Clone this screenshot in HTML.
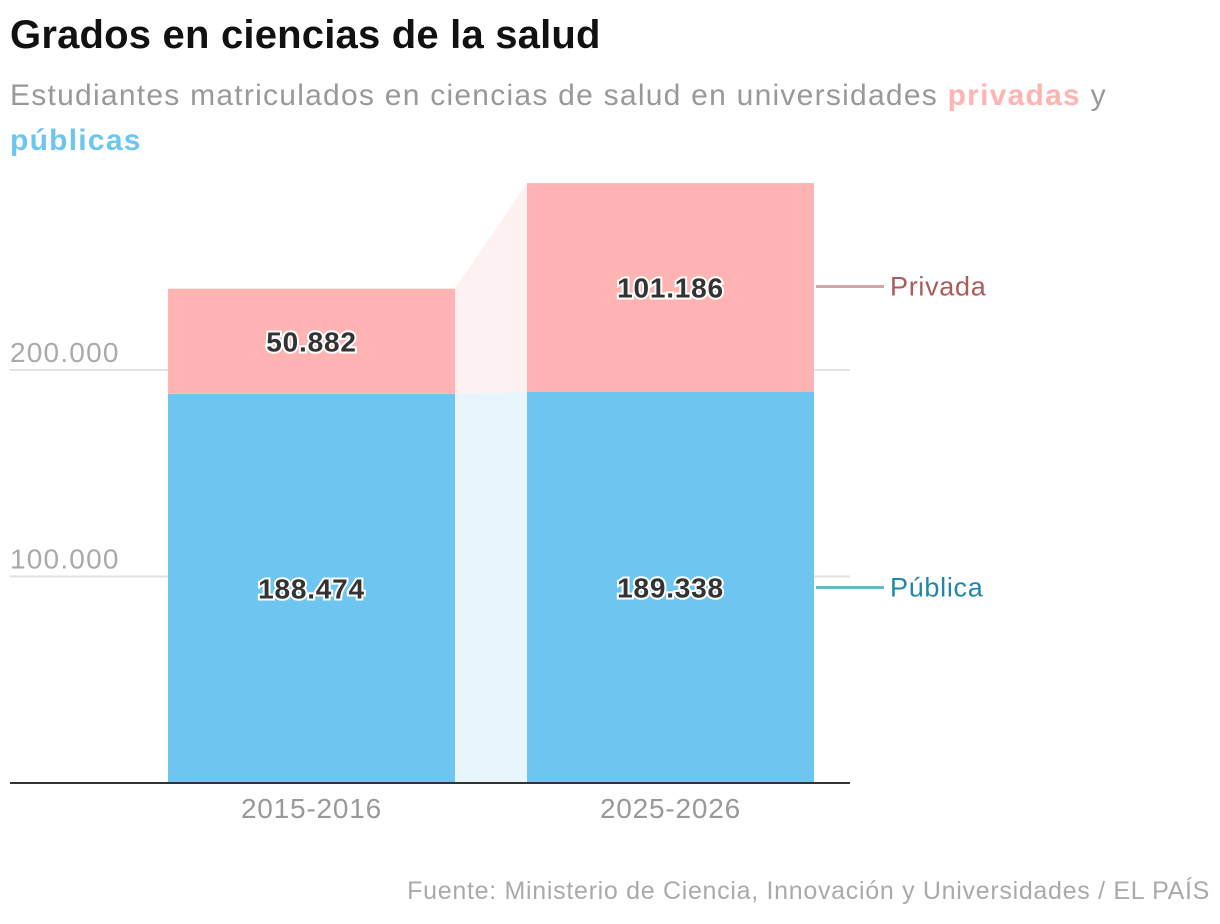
<!DOCTYPE html>
<html><head><meta charset="utf-8">
<style>
body{margin:0;width:1220px;height:924px;background:#fff;font-family:"Liberation Sans",sans-serif;overflow:hidden;position:relative}
h1{position:absolute;left:10px;top:13px;margin:0;font-size:40px;font-weight:bold;color:#111;letter-spacing:0.2px}
.sub{position:absolute;left:10px;top:73px;width:1150px;margin:0;font-size:30px;line-height:45px;color:#999;letter-spacing:1.25px}
.pr{color:#ffb3b3;font-weight:bold}.pu{color:#6cc6ef;font-weight:bold}
.src{position:absolute;right:10px;top:877px;font-size:25px;color:#aaa;letter-spacing:0.7px}
svg{position:absolute;left:0;top:0}
</style></head><body>
<h1>Grados en ciencias de la salud</h1>
<p class="sub">Estudiantes matriculados en ciencias de salud en universidades <span class="pr">privadas</span> y <span class="pu">públicas</span></p>
<div class="src">Fuente: Ministerio de Ciencia, Innovación y Universidades / EL PAÍS</div>
<svg id="chart" width="1220" height="924"></svg>
<script>
const categories=["2015-2016","2025-2026"];
const publica=[188474,189338];
const privada=[50882,101186];
const tickValues=[100000,200000];
const tickLabels=["100.000","200.000"];
const fmt=v=>v.toString().replace(/\B(?=(\d{3})+(?!\d))/g,".");
const NS="http://www.w3.org/2000/svg";
const svg=document.getElementById('chart');
const base=783, pxPer=413/200000;
const y=v=>base-v*pxPer;
const barX=[168,527], barW=287;
function mk(t,a){const e=document.createElementNS(NS,t);for(const k in a)e.setAttribute(k,a[k]);svg.appendChild(e);return e;}
tickValues.forEach((v,i)=>{
 const g=mk('line',{x1:10,x2:850,y1:y(v),y2:y(v),stroke:'#e2e2e2','stroke-width':2});
 
 
 const t=mk('text',{x:10,y:y(v)-8,'font-size':28,fill:'#aaa','letter-spacing':1.2});t.textContent=tickLabels[i];
 
 
});
const x1=barX[0]+barW,x2=barX[1];
const cPub=mk('polygon',{points:`${x1},${base} ${x1},${y(publica[0])} ${x2},${y(publica[1])} ${x2},${base}`,fill:'#e8f5fc'});


const cPri=mk('polygon',{points:`${x1},${y(publica[0])} ${x1},${y(publica[0]+privada[0])} ${x2},${y(publica[1]+privada[1])} ${x2},${y(publica[1])}`,fill:'#fdf1f1'});


categories.forEach((c,i)=>{
 const x=barX[i];
 const bp=mk('rect',{x:x,y:y(publica[i]),width:barW,height:base-y(publica[i]),fill:'#6ec6f0'});
 
 
 const tot=publica[i]+privada[i];
 const br=mk('rect',{x:x,y:y(tot),width:barW,height:y(publica[i])-y(tot),fill:'#ffb3b3'});
 
 
 [[publica[i],(y(publica[i])+base)/2],[privada[i],(y(tot)+y(publica[i]))/2]].forEach(([v,cy])=>{
  const t=mk('text',{x:x+barW/2,y:cy+10,'text-anchor':'middle','font-size':28,'font-weight':'bold','letter-spacing':0.8,fill:'#333',stroke:'#fff','stroke-width':4,'paint-order':'stroke'});
  t.textContent=fmt(v);
  
  
 });
 const xl=mk('text',{x:x+barW/2,y:818,'text-anchor':'middle','font-size':28,fill:'#999','letter-spacing':0.8});xl.textContent=c;
 
 
});
const ax=mk('line',{x1:10,x2:850,y1:base,y2:base,stroke:'#333','stroke-width':2});


const last=1, lx=barX[1]+barW;
const yPri=(y(publica[last]+privada[last])+y(publica[last]))/2-1;
const yPub=(y(publica[last])+base)/2;
[[yPri,'#d4a5a5','#a85c5c','Privada','legend-privada'],[yPub,'#6ab8c8','#1f87a8','Pública','legend-publica']].forEach(([ly,lc,tc,txt,nm])=>{
 const l=mk('line',{x1:lx+2,x2:884,y1:ly,y2:ly,stroke:lc,'stroke-width':3});
 
 
 const t=mk('text',{x:890,y:ly+9,'font-size':27,fill:tc,'letter-spacing':0.7});t.textContent=txt;
 
 
});
</script>
</body></html>
